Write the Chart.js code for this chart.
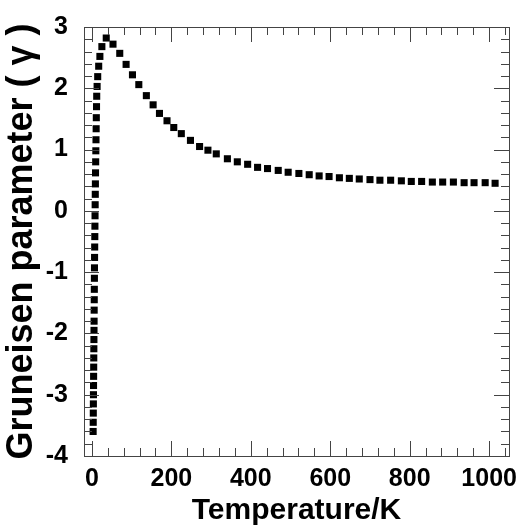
<!DOCTYPE html>
<html lang="en">
<head>
    <meta charset="UTF-8">
    <title>Gruneisen parameter vs temperature</title>
    <script src="https://cdn.jsdelivr.net/npm/chart.js"></script>
    <style>
        html, body { margin: 0; padding: 0; background: #fff; }
        .chart-container { width: 529px; height: 530px; }
    </style>
</head>
<body>
    <div class="chart-container"><canvas id="chart1"></canvas></div>

    <script>
        // temperature (K) and gruneisen values
        const temps = [
            3.0, 3.2, 3.4, 3.6, 3.8, 4.0, 4.2, 4.4, 4.6, 4.8,
            5.0, 5.2, 5.4, 5.6, 5.8, 6.0, 6.2, 6.4, 6.6, 6.9,
            7.2, 7.5, 7.8, 8.1, 8.4, 8.7, 9.0, 9.4, 9.8, 10.2,
            10.6, 11.0, 11.5, 12.0, 13.0, 14.5, 17.0, 20.0, 25.0,
            36, 53, 70, 86, 102, 118, 137, 154, 170, 189,
            206, 225, 248, 271, 292, 313, 341, 366, 392, 417,
            442, 469, 494, 521, 547, 572, 597, 623, 648, 673,
            700, 725, 752, 779, 804, 830, 857, 883, 910, 937,
            962, 990, 1015
        ];
        const gamma = [
            -3.6, -3.45, -3.3, -3.15, -3.0, -2.85, -2.7, -2.55, -2.4, -2.25,
            -2.1, -1.95, -1.8, -1.62, -1.45, -1.28, -1.1, -0.93, -0.76, -0.59,
            -0.42, -0.25, -0.08, 0.1, 0.27, 0.44, 0.62, 0.8, 0.98, 1.16,
            1.34, 1.52, 1.7, 1.87, 2.03, 2.19, 2.36, 2.52, 2.68,
            2.82, 2.72, 2.57, 2.39, 2.22, 2.06, 1.88, 1.73, 1.59, 1.47,
            1.36, 1.26, 1.15, 1.05, 0.99, 0.93, 0.85, 0.80, 0.76, 0.71,
            0.69, 0.66, 0.63, 0.61, 0.59, 0.57, 0.56, 0.54, 0.53, 0.52,
            0.51, 0.50, 0.50, 0.49, 0.48, 0.48, 0.47, 0.47, 0.47, 0.46,
            0.46, 0.46, 0.45
        ];
        const xTicks = [0, 200, 400, 600, 800, 1000];
        const yTicks = [-4, -3, -2, -1, 0, 1, 2, 3];

        const points = temps.map((t, i) => ({ x: t, y: gamma[i] }));

        // frame plus inward ticks on all four sides
        const frameTicks = {
            id: 'frameTicks',
            afterDraw(chart) {
                const ctx = chart.ctx;
                const a = chart.chartArea;
                const xs = chart.scales.x;
                const ys = chart.scales.y;
                ctx.save();
                ctx.strokeStyle = '#444';
                ctx.lineWidth = 1;
                ctx.beginPath();
                for (let v = -40; v <= 1050; v += 40) {
                    if (v < xs.min) continue;
                    const px = Math.round(xs.getPixelForValue(v)) + 0.5;
                    const len = xTicks.includes(v) ? 15 : 8;
                    ctx.moveTo(px, a.bottom); ctx.lineTo(px, a.bottom - len);
                    ctx.moveTo(px, a.top); ctx.lineTo(px, a.top + len);
                }
                for (let k = -20; k <= 15; k++) {
                    const v = k / 5;
                    const py = Math.round(ys.getPixelForValue(v)) + 0.5;
                    const len = (k % 5 === 0) ? 15 : 8;
                    ctx.moveTo(a.left, py); ctx.lineTo(a.left + len, py);
                    ctx.moveTo(a.right, py); ctx.lineTo(a.right - len, py);
                }
                ctx.stroke();
                ctx.strokeRect(Math.round(a.left) + 0.5, Math.round(a.top) + 0.5,
                    Math.round(a.right - a.left), Math.round(a.bottom - a.top));
                ctx.restore();
            }
        };

        const ctx = document.getElementById('chart1').getContext('2d');
        new Chart(ctx, {
            type: 'scatter',
            data: {
                datasets: [{
                    label: 'gamma',
                    data: points,
                    pointStyle: 'rect',
                    pointRadius: 5,
                    pointBackgroundColor: '#000',
                    pointBorderColor: '#000',
                    pointBorderWidth: 0,
                    showLine: false
                }]
            },
            options: {
                responsive: true,
                maintainAspectRatio: false,
                animation: false,
                layout: { padding: { left: 0, right: 20, top: 27, bottom: 0 } },
                plugins: {
                    legend: { display: false },
                    tooltip: { enabled: false }
                },
                scales: {
                    x: {
                        type: 'linear',
                        min: -20,
                        max: 1050,
                        afterFit: (s) => { s.height = 74; },
                        afterBuildTicks: (s) => { s.ticks = xTicks.map(v => ({ value: v })); },
                        grid: { display: false },
                        border: { display: false },
                        ticks: {
                            padding: 0,
                            color: '#000',
                            callback: (v) => String(v),
                            font: { family: 'Liberation Sans, Arial', size: 25, weight: 'bold' }
                        },
                        title: {
                            display: true,
                            text: 'Temperature/K',
                            color: '#000',
                            padding: { top: 0, bottom: 1 },
                            font: { family: 'Liberation Sans, Arial', size: 30, weight: 'bold' }
                        }
                    },
                    y: {
                        type: 'linear',
                        min: -4,
                        max: 3,
                        afterFit: (s) => { s.width = 84; },
                        afterBuildTicks: (s) => { s.ticks = yTicks.map(v => ({ value: v })); },
                        grid: { display: false },
                        border: { display: false },
                        ticks: {
                            padding: 8,
                            color: '#000',
                            callback: (v) => String(v),
                            font: { family: 'Liberation Sans, Arial', size: 25, weight: 'bold' }
                        },
                        title: {
                            display: true,
                            text: 'Gruneisen parameter ( γ )',
                            color: '#000',
                            padding: { top: 0, bottom: 0 },
                            font: { family: 'Liberation Sans, Arial', size: 36, weight: 'bold' }
                        }
                    }
                }
            },
            plugins: [frameTicks]
        });
    </script>
</body>
</html>
